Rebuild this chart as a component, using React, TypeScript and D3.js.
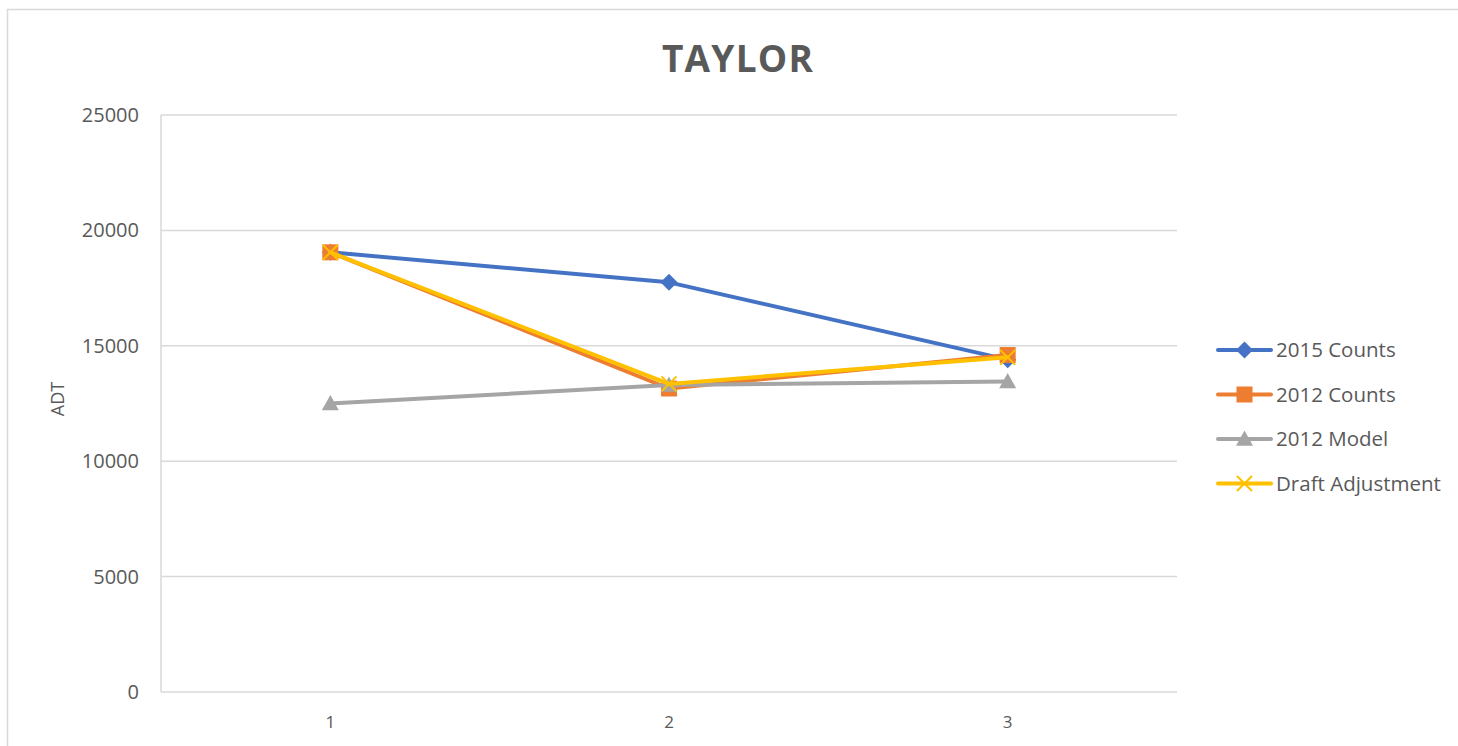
import React from 'react';
import * as d3 from 'd3';

const categories = ['1', '2', '3'];
const counts2015 = [19050, 17750, 14400];
const counts2012 = [19050, 13150, 14600];
const model2012 = [12500, 13300, 13450];
const draftAdjustment = [19050, 13350, 14500];
const yTicks = [0, 5000, 10000, 15000, 20000, 25000];

const series = [
    { name: '2015 Counts', values: counts2015, color: '#4472C4', marker: 'diamond' },
    { name: '2012 Counts', values: counts2012, color: '#ED7D31', marker: 'square' },
    { name: '2012 Model', values: model2012, color: '#A5A5A5', marker: 'triangle' },
    { name: 'Draft Adjustment', values: draftAdjustment, color: '#FFC000', marker: 'x' },
];

const W = 1458;
const H = 746;
const plot = { left: 161, right: 1177, top: 115, bottom: 692 };
const FONT = '"Open Sans", sans-serif';
const TEXT = '#595959';
const GRID = '#d9d9d9';

function Marker({ type, x, y, color }) {
    if (type === 'diamond') {
        const s = 8.5;
        return <path d={`M${x},${y - s}L${x + s},${y}L${x},${y + s}L${x - s},${y}Z`} fill={color} />;
    }
    if (type === 'square') {
        const s = 8;
        return <rect x={x - s} y={y - s} width={s * 2} height={s * 2} fill={color} />;
    }
    if (type === 'triangle') {
        const s = 8.5;
        return <path d={`M${x},${y - s}L${x + s},${y + s * 0.8}L${x - s},${y + s * 0.8}Z`} fill={color} />;
    }
    const s = 7.5;
    return (
        <path
            d={`M${x - s},${y - s}L${x + s},${y + s}M${x - s},${y + s}L${x + s},${y - s}`}
            stroke={color}
            strokeWidth={2}
            fill="none"
        />
    );
}

export default function App() {
    const x = d3.scaleBand().domain(categories).range([plot.left, plot.right]);
    const y = d3.scaleLinear().domain([0, 25000]).range([plot.bottom, plot.top]);
    const cx = (c) => x(c) + x.bandwidth() / 2;
    const line = d3
        .line()
        .x((d, i) => cx(categories[i]))
        .y(d => y(d));

    return (
        <svg width={W} height={H} style={{ position: 'absolute', left: 0, top: 0 }} fontFamily={FONT}>
            <rect x={0} y={0} width={W} height={H} fill="#fff" />
            <rect x={7.5} y={9.5} width={1600} height={900} fill="none" stroke={GRID} strokeWidth={1.5} />

            <text x={738} y={72} textAnchor="middle" fontSize={37} fontWeight="bold" fill={TEXT} letterSpacing={1.2}>
                TAYLOR
            </text>

            {yTicks.map(t => (
                <g key={t}>
                    <line x1={plot.left} x2={plot.right} y1={y(t)} y2={y(t)} stroke={GRID} strokeWidth={1.5} />
                    <text x={139} y={y(t)} dy="0.35em" textAnchor="end" fontSize={20} fill={TEXT}>
                        {t}
                    </text>
                </g>
            ))}
            <line x1={plot.left} x2={plot.left} y1={plot.top} y2={plot.bottom} stroke={GRID} strokeWidth={1.5} />

            {categories.map(c => (
                <text key={c} x={cx(c)} y={722} dy="0.35em" textAnchor="middle" fontSize={17} fill={TEXT}>
                    {c}
                </text>
            ))}

            <text transform="translate(58,399) rotate(-90)" textAnchor="middle" dy="0.35em" fontSize={18} fill={TEXT}>
                ADT
            </text>

            {series.map(s => (
                <g key={s.name}>
                    <path d={line(s.values)} fill="none" stroke={s.color} strokeWidth={4} strokeLinejoin="round" strokeLinecap="round" />
                    {s.values.map((v, i) => (
                        <Marker key={i} type={s.marker} x={cx(categories[i])} y={y(v)} color={s.color} />
                    ))}
                </g>
            ))}

            {series.map((s, i) => {
                const ly = 350 + i * 44.5;
                return (
                    <g key={s.name}>
                        <line x1={1218} x2={1271} y1={ly} y2={ly} stroke={s.color} strokeWidth={4} strokeLinecap="round" />
                        <Marker type={s.marker} x={1244.5} y={ly} color={s.color} />
                        <text x={1276} y={ly} dy="0.35em" fontSize={20.5} fill={TEXT}>
                            {s.name}
                        </text>
                    </g>
                );
            })}
        </svg>
    );
}
